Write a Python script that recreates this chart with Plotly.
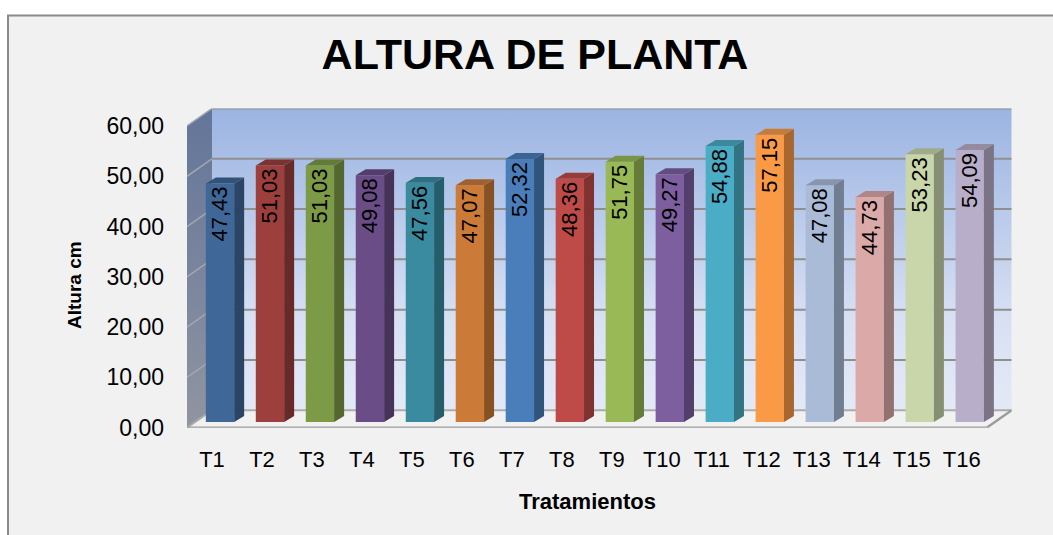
"""
plot.py - Altura de planta, Excel style 3D columns redone with Plotly.
"""

import plotly.graph_objects as go

W, H = 1053, 535

categories = ["T1", "T2", "T3", "T4", "T5", "T6", "T7", "T8",
              "T9", "T10", "T11", "T12", "T13", "T14", "T15", "T16"]
altura = [47.43, 51.03, 51.03, 49.08, 47.56, 47.07, 52.32, 48.36,
          51.75, 49.27, 54.88, 57.15, 47.08, 44.73, 53.23, 54.09]
bar_colors = ["#3F6797", "#9C3F3D", "#7D9A46", "#6A4D87", "#3A8BA0", "#CB7A37",
              "#4A7EBB", "#BE4B48", "#98B955", "#7D5FA0", "#4BACC6", "#FB9A46",
              "#AABBD8", "#DBA9A8", "#C8D6AA", "#B9AEC9"]
y_ticks = [0, 10, 20, 30, 40, 50, 60]

# fake 3D: how far the back wall and the columns sit from the front plane
WALL_DX, WALL_DY = 0.5, 3.48      # category units, value units
BAR_DX, BAR_DY = 0.16, 1.13
SIDE_DX, SIDE_DY = 0.2, 1.19
BAR_W = 0.567
GRID = "#8F8F8F"
FONT = "Liberation Sans, Arial, sans-serif"


def shade(hex_color, k):
    r, g, b = (int(hex_color[i:i + 2], 16) for i in (1, 3, 5))
    return f"rgb({int(r * k)},{int(g * k)},{int(b * k)})"


def polygon(xs, ys, color, **kwargs):
    return go.Scatter(x=xs, y=ys, mode="lines", fill="toself", fillcolor=color,
                      line=dict(width=0), hoverinfo="skip", showlegend=False, **kwargs)


def line(xs, ys, color=GRID, width=2):
    return go.Scatter(x=xs, y=ys, mode="lines", line=dict(color=color, width=width),
                      hoverinfo="skip", showlegend=False)


x_left, x_right = -0.5, 15.5
y_top = y_ticks[-1]

fig = go.Figure()

# ─── Walls and floor ──────────────────────────────────────────────────────────
wall = polygon([x_left + WALL_DX, x_right + WALL_DX, x_right + WALL_DX, x_left + WALL_DX, x_left + WALL_DX],
               [WALL_DY, WALL_DY, y_top + WALL_DY, y_top + WALL_DY, WALL_DY], "#C0CFEC")
wall.update(fillgradient=dict(type="vertical", colorscale=[
    [0, "#E4E9F6"], [0.3, "#D8E0F3"], [0.7, "#B5C7E9"], [1, "#9BB4E2"]]))
fig.add_trace(wall)

side = polygon([x_left, x_left + WALL_DX, x_left + WALL_DX, x_left, x_left],
               [0, WALL_DY, y_top + WALL_DY, y_top, 0], "#7A869E")
side.update(fillgradient=dict(type="vertical", colorscale=[[0, "#90959F"], [1, "#63759A"]]))
fig.add_trace(side)

for v in y_ticks[1:]:
    fig.add_trace(line([x_left, x_left + WALL_DX], [v, v + WALL_DY], "#A3A6AC", 1.5))
    fig.add_trace(line([x_left + WALL_DX, x_right + WALL_DX], [v + WALL_DY, v + WALL_DY]))

fig.add_trace(line([x_left + WALL_DX, x_right + WALL_DX], [WALL_DY, WALL_DY], "#ABABAB"))
fig.add_trace(line([x_left, x_left + WALL_DX], [0, WALL_DY], "#ABABAB"))
fig.add_trace(line([x_left, x_right, x_right + WALL_DX], [0, 0, WALL_DY], "#9C9C9C", 2.5))

# ─── Columns ──────────────────────────────────────────────────────────────────
bar_x = [i + BAR_DX for i in range(len(categories))]
fig.add_trace(go.Bar(
    x=bar_x, y=altura, base=BAR_DY, width=BAR_W, xaxis="x2", yaxis="y2",
    marker=dict(color=bar_colors, line=dict(width=0)),
    text=[f"{v:.2f}".replace(".", ",") for v in altura],
    textposition="inside", insidetextanchor="end", textangle=-90,
    constraintext="none", cliponaxis=False,
    textfont=dict(family=FONT, size=22, color="#000000"),
    hoverinfo="skip", showlegend=False,
))
for x, v, color in zip(bar_x, altura, bar_colors):
    right = x + BAR_W / 2
    left = x - BAR_W / 2
    top = BAR_DY + v
    fig.add_trace(polygon([right, right + SIDE_DX, right + SIDE_DX, right, right],
                          [BAR_DY, BAR_DY + SIDE_DY, top + SIDE_DY, top, BAR_DY],
                          shade(color, 0.67), xaxis="x2", yaxis="y2"))
    fig.add_trace(polygon([left, left + SIDE_DX, right + SIDE_DX, right, left],
                          [top, top + SIDE_DY, top + SIDE_DY, top, top],
                          shade(color, 0.8), xaxis="x2", yaxis="y2"))

# ─── Layout ───────────────────────────────────────────────────────────────────
x_range = [x_left, x_right + WALL_DX]
y_range = [0, y_top + WALL_DY]
x_domain = [187 / W, 1011.7 / W]
y_domain = [(H - 427.7) / H, (H - 108.5) / H]

fig.update_layout(
    width=W, height=H,
    margin=dict(l=0, r=0, t=0, b=0),
    paper_bgcolor="#FFFFFF",
    plot_bgcolor="rgba(0,0,0,0)",
    font=dict(family=FONT, color="#000000"),
    separators=",.",
    showlegend=False,
    title=dict(text="<b>ALTURA DE PLANTA</b>", x=535 / W, xanchor="center",
               y=(H - 54) / H, yanchor="middle", automargin=False,
               font=dict(size=43, family=FONT)),
    xaxis=dict(domain=x_domain, range=x_range, tickmode="array", automargin=False,
               tickvals=list(range(len(categories))), ticktext=categories,
               showgrid=False, zeroline=False, showline=False, ticks="",
               ticklabelstandoff=16, tickfont=dict(size=22), tickangle=0),
    yaxis=dict(domain=y_domain, range=y_range, tickmode="array", tickvals=y_ticks,
               tickformat=".2f", showgrid=False, zeroline=False, showline=False,
               automargin=False, ticks="", ticklabelstandoff=22, tickfont=dict(size=23)),
    xaxis2=dict(domain=x_domain, range=x_range, overlaying="x", visible=False, automargin=False),
    yaxis2=dict(domain=y_domain, range=y_range, overlaying="y", visible=False, automargin=False),
    shapes=[dict(type="rect", xref="paper", yref="paper", layer="below",
                 x0=8 / W, x1=1.01, y0=-0.01, y1=(H - 15.5) / H,
                 fillcolor="#F1F1F1", line=dict(color="#8A8A8A", width=2))],
    annotations=[
        dict(text="<b>Altura cm</b>", xref="paper", yref="paper", showarrow=False,
             x=74 / W, y=(H - 285) / H, xanchor="center", yanchor="middle",
             textangle=-90, font=dict(size=19)),
        dict(text="<b>Tratamientos</b>", xref="paper", yref="paper", showarrow=False,
             x=587 / W, y=(H - 501) / H, xanchor="center", yanchor="middle",
             font=dict(size=22)),
    ],
)

fig.write_html("out.html", config={"displayModeBar": False},
               post_script="document.body.style.margin='0';")
